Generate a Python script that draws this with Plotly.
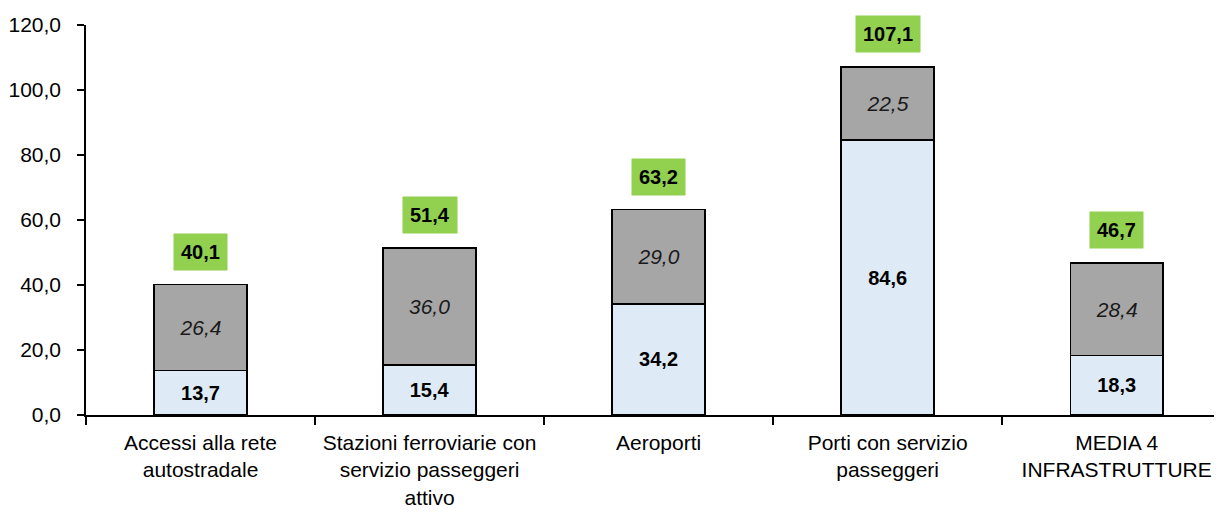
import plotly.graph_objects as go

categories = [
    "Accessi alla rete<br>autostradale",
    "Stazioni ferroviarie con<br>servizio passeggeri<br>attivo",
    "Aeroporti",
    "Porti con servizio<br>passeggeri",
    "MEDIA 4<br>INFRASTRUTTURE",
]
base_values = [13.7, 15.4, 34.2, 84.6, 18.3]
upper_values = [26.4, 36.0, 29.0, 22.5, 28.4]
total_values = [40.1, 51.4, 63.2, 107.1, 46.7]
y_ticks = [0, 20, 40, 60, 80, 100, 120]


def fmt(v):
    return f"{v:.1f}".replace(".", ",")


FONT = "Liberation Sans, Arial, sans-serif"

fig = go.Figure()
fig.add_trace(go.Bar(
    x=categories, y=base_values,
    marker=dict(color="#DEEAF6", line=dict(color="black", width=1.5)),
    text=[f"<b>{fmt(v)}</b>" for v in base_values],
    textposition="inside", insidetextanchor="middle", textangle=0,
    textfont=dict(family=FONT, size=20, color="black"),
    width=0.405, hoverinfo="skip",
))
fig.add_trace(go.Bar(
    x=categories, y=upper_values,
    marker=dict(color="#A6A6A6", line=dict(color="black", width=1.5)),
    text=[f"<i>{fmt(v)}</i>" for v in upper_values],
    textposition="inside", insidetextanchor="middle", textangle=0,
    textfont=dict(family=FONT, size=21, color="#1a1a1a"),
    width=0.405, hoverinfo="skip",
))

for c, t in zip(categories, total_values):
    fig.add_annotation(
        x=c, y=t, yshift=33, text=f"<b>{fmt(t)}</b>", showarrow=False,
        font=dict(family=FONT, size=20, color="black"),
        bgcolor="#92D050", borderpad=7, yanchor="middle", xanchor="center",
    )

fig.update_layout(
    width=1214, height=504,
    margin=dict(l=78, r=0, t=17, b=97),
    barmode="stack", bargap=0.595,
    plot_bgcolor="white", paper_bgcolor="white",
    showlegend=False,
    separators=",.",
    font=dict(family=FONT, size=21, color="black"),
)
fig.update_xaxes(
    range=[-0.5, 4.46], showline=True, linecolor="black", linewidth=1.5,
    tickson="boundaries", ticks="outside", ticklen=8, tickwidth=1.5,
    tickcolor="black", tickfont=dict(family=FONT, size=21, color="black"),
    ticklabelstandoff=8,
    showgrid=False, zeroline=False, automargin=False,
)
fig.update_yaxes(
    range=[0, 120], tickvals=y_ticks, tickformat=".1f",
    showline=True, linecolor="black", linewidth=1.5,
    ticks="outside", ticklen=7, tickwidth=1.5, tickcolor="black",
    tickfont=dict(family=FONT, size=21, color="black"),
    ticklabelstandoff=12,
    showgrid=False, zeroline=False, automargin=False,
)

fig.write_html("out.html")
